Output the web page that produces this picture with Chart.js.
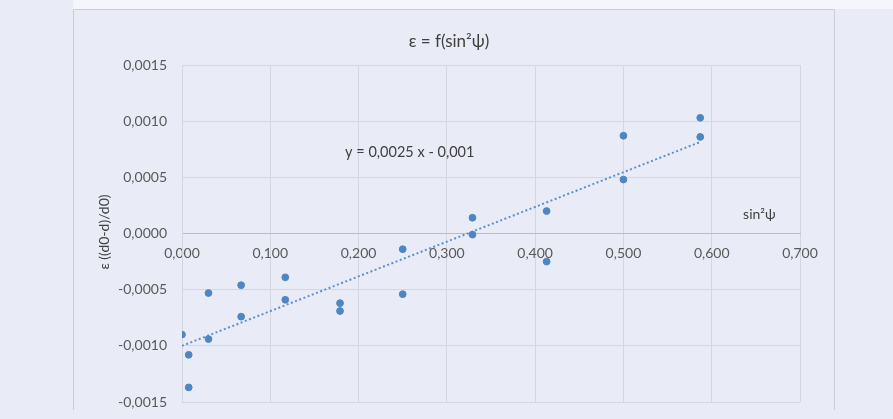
<!DOCTYPE html>
<html lang="fr">
<head>
<meta charset="UTF-8">
<title>epsilon = f(sin2psi)</title>
<script src="https://cdn.jsdelivr.net/npm/chart.js"></script>
<style>
  html, body { margin: 0; padding: 0; background: #e9ecf6; }
  canvas { display: block; }
</style>
<script>
// valeurs
var sin2psi = [0.000, 0.0076, 0.0076, 0.030, 0.030, 0.067, 0.067, 0.117, 0.117, 0.179, 0.179,
               0.250, 0.250, 0.329, 0.329, 0.413, 0.413, 0.500, 0.500, 0.587, 0.587];
var strain  = [-0.00090, -0.00108, -0.00137, -0.00053, -0.00094, -0.00046, -0.00074, -0.00039, -0.00059, -0.00062, -0.00069,
               -0.00014, -0.00054, 0.00014, -0.00001, 0.00020, -0.00025, 0.00087, 0.00048, 0.00103, 0.00086];
var xTicks = [0, 0.1, 0.2, 0.3, 0.4, 0.5, 0.6, 0.7];
var yTicks = [-0.0015, -0.001, -0.0005, 0, 0.0005, 0.001, 0.0015];
var titleText = 'ε = f(sin²ψ)';
var yTitle = 'ε ((d0-d)/d0)';
var xTitle = 'sin²ψ';
var eqText = 'y = 0,0025 x - 0,001';
</script>
</head>
<body>
<canvas id="myChart" width="893" height="419"></canvas>
<script>
    function fr(v, d) {
        return v.toFixed(d).replace('.', ',');
    }

    // droite de tendance (moindres carres)
    var n = sin2psi.length, sx = 0, sy = 0, sxx = 0, sxy = 0;
    for (var i = 0; i < n; i++) {
        sx += sin2psi[i]; sy += strain[i];
        sxx += sin2psi[i] * sin2psi[i]; sxy += sin2psi[i] * strain[i];
    }
    var slope = (n * sxy - sx * sy) / (n * sxx - sx * sx);
    var icpt = (sy - slope * sx) / n;
    var xMin = Math.min.apply(null, sin2psi), xMax = Math.max.apply(null, sin2psi);

    var points = [];
    for (var i = 0; i < n; i++) points.push({ x: sin2psi[i], y: strain[i] });
    var trend = [{ x: xMin, y: slope * xMin + icpt }, { x: xMax, y: slope * xMax + icpt }];

    var font = 'Lato, "Open Sans", sans-serif';

    var decor = {
        id: 'decor',
        beforeDraw: function (chart) {
            var c = chart.ctx;
            c.save();
            c.fillStyle = '#e9ecf6';
            c.fillRect(0, 0, 893, 419);
            c.fillStyle = '#f5f6fb';
            c.fillRect(73, 0, 820, 9);
            c.strokeStyle = '#c9cdd6';
            c.lineWidth = 1;
            c.beginPath();
            c.moveTo(73.5, 410); c.lineTo(73.5, 9.5); c.lineTo(834.5, 9.5); c.lineTo(834.5, 410);
            c.stroke();
            c.restore();
        },
        afterDraw: function (chart) {
            var c = chart.ctx, xs = chart.scales.x, ys = chart.scales.y;
            c.save();
            c.fillStyle = '#404040';
            c.textAlign = 'center';
            c.textBaseline = 'middle';
            c.font = '17px ' + font;
            c.fillText(titleText, 449, 42);
            c.font = '14.5px ' + font;
            c.fillText(eqText, xs.getPixelForValue(0.258), ys.getPixelForValue(0.00072));
            c.font = '14px ' + font;
            c.fillText(xTitle, xs.getPixelForValue(0.654), ys.getPixelForValue(0.00017));
            c.translate(104, 232);
            c.rotate(-Math.PI / 2);
            c.fillText(yTitle, 0, 0);
            c.restore();
        }
    };

    var ctx = document.getElementById('myChart').getContext('2d');
    var chart = new Chart(ctx, {
        type: 'scatter',
        data: {
            datasets: [{
                label: 'points',
                data: points,
                backgroundColor: '#4e86c4',
                borderColor: '#4e86c4',
                pointRadius: 3.4,
                pointHoverRadius: 3.4,
                order: 1
            }, {
                type: 'line',
                label: 'tendance',
                data: trend,
                borderColor: '#5b8fcc',
                borderWidth: 2,
                borderDash: [2, 2.5],
                pointRadius: 0,
                fill: false,
                order: 2
            }]
        },
        options: {
            responsive: false,
            animation: false,
            layout: { padding: { left: 0, right: 93, top: 65, bottom: 17 } },
            plugins: { legend: { display: false }, tooltip: { enabled: false } },
            scales: {
                x: {
                    type: 'linear',
                    position: { y: 0 },
                    min: 0, max: 0.7,
                    afterBuildTicks: function (s) { s.ticks = xTicks.map(function (v) { return { value: v }; }); },
                    afterFit: function (s) { s.height = 0; },
                    ticks: {
                        padding: 12,
                        color: '#595959',
                        font: { family: font, size: 14 },
                        callback: function (v) { return fr(v, 3); }
                    },
                    grid: { color: '#d3d7e0', drawTicks: false },
                    border: { color: '#b8bcc6', width: 1 }
                },
                y: {
                    type: 'linear',
                    position: 'left',
                    min: -0.0015, max: 0.0015,
                    afterBuildTicks: function (s) { s.ticks = yTicks.map(function (v) { return { value: v }; }); },
                    afterFit: function (s) { s.width = 182; s.paddingTop = 0; s.paddingBottom = 0; },
                    ticks: {
                        padding: 15,
                        color: '#595959',
                        font: { family: font, size: 14 },
                        callback: function (v) { return fr(v, 4); }
                    },
                    grid: { color: '#d3d7e0', drawTicks: false },
                    border: { color: '#d3d7e0', width: 1 }
                }
            }
        },
        plugins: [decor]
    });
</script>
</body>
</html>
